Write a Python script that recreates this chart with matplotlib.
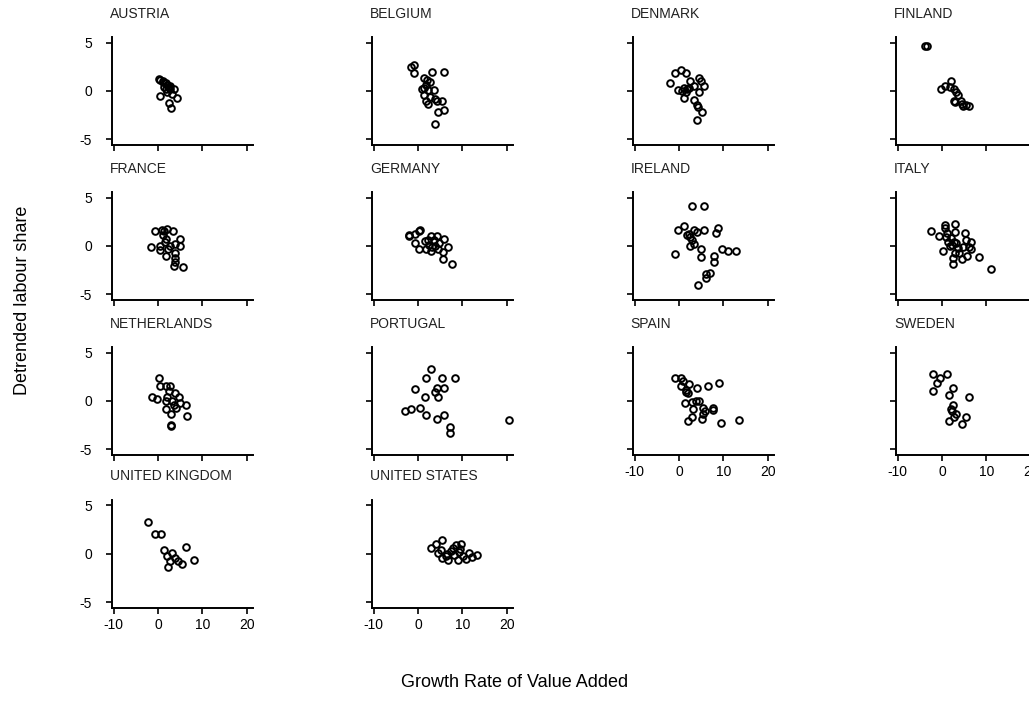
import matplotlib
matplotlib.use("Agg")
from matplotlib import pyplot as plt

plt.rcParams['font.family'] = ['Liberation Sans', 'DejaVu Sans']
plt.rcParams['axes.unicode_minus'] = False   # plain hyphen for negative ticks

# growth rate of value added (x) and detrended labour share (y), per country
austria_x = [0.2, 0.5, 1.1, 1.7, 2.0, 1.4, 2.4, 2.8, 3.5, 2.0, 3.2, 4.3, 0.5, 2.4, 3.0, 1.9, 1.2, 2.6]
austria_y = [1.2, 1.1, 0.9, 0.8, 0.6, 0.4, 0.35, 0.15, 0.15, -0.1, -0.3, -0.7, -0.55, -1.3, -1.8, 0.15, 1.0, 0.5]

belgium_x = [-1.0, -1.7, -1.0, 3.2, 5.8, 1.3, 2.0, 2.6, 1.8, 0.8, 1.3, 2.3, 3.5, 1.3, 2.6, 1.8, 3.9, 4.3, 5.4, 2.2, 5.8, 4.5, 3.9]
belgium_y = [2.65, 2.5, 1.8, 2.0, 2.0, 1.35, 1.1, 0.9, 0.6, 0.15, 0.25, 0.05, 0.05, -0.45, -0.6, -1.0, -0.8, -1.1, -1.1, -1.4, -2.0, -2.2, -3.45]

denmark_x = [0.5, -0.8, 1.7, -2.0, 2.6, 4.5, 4.9, 5.6, 3.4, 1.1, -0.2, 1.9, 4.5, 1.1, 3.4, 4.0, 4.4, 5.3, 4.0, 2.3, 0.7, 1.5]
denmark_y = [2.2, 1.8, 1.8, 0.8, 1.0, 1.35, 1.0, 0.5, 0.5, 0.25, 0.05, 0.15, -0.1, -0.7, -0.9, -1.5, -1.65, -2.2, -3.0, 0.25, 0.0, -0.1]

finland_x = [-3.5, -3.9, -0.3, 0.6, 2.0, 1.7, 2.7, 3.2, 3.5, 2.7, 3.0, 4.2, 4.7, 5.5, 6.1, 4.4]
finland_y = [4.65, 4.6, 0.15, 0.5, 1.0, 0.35, 0.15, -0.1, -0.4, -1.0, -1.15, -1.0, -1.6, -1.5, -1.6, -1.4]

france_x = [-0.8, 0.8, 2.0, 3.4, 1.1, 1.9, 5.0, 3.8, 5.0, 0.5, -1.7, 0.5, 2.3, 2.7, 1.9, 3.8, 3.8, 3.8, 3.6, 5.7, 1.5, 1.4]
france_y = [1.55, 1.65, 1.7, 1.55, 1.15, 0.7, 0.7, 0.2, 0.0, 0.0, -0.15, -0.4, -0.35, -0.05, -1.0, -0.75, -1.25, -1.7, -2.1, -2.2, 0.45, 1.5]

germany_x = [-2.0, -0.6, 0.5, 0.2, -0.6, 0.3, 1.5, 3.0, 4.3, 5.8, 4.7, 6.8, 5.6, 1.8, 3.2, 2.4, 3.9, 5.7, 7.7, 3.5, 2.3, 4.6, 2.8, -2.1]
germany_y = [1.15, 1.25, 1.65, 1.5, 0.25, -0.35, 0.5, 1.0, 1.05, 0.7, 0.25, -0.15, -0.6, -0.35, -0.15, 0.1, -0.05, -1.35, -1.85, 0.6, 0.6, -0.35, -0.5, 1.0]

ireland_x = [3.0, 5.6, -0.2, 1.1, 3.4, 5.6, 4.1, 8.9, 8.4, 1.9, 2.6, 3.0, 2.5, 3.5, 4.9, 9.8, 11.1, 12.9, -0.8, 4.9, 7.9, 7.9, 7.0, 6.2, 6.0, 4.4, 2.2]
ireland_y = [4.1, 4.1, 1.65, 2.1, 1.65, 1.65, 1.45, 1.9, 1.3, 1.15, 0.95, 0.6, 0.0, 0.2, -0.35, -0.35, -0.5, -0.5, -0.8, -1.2, -1.0, -1.7, -2.8, -2.9, -3.3, -4.05, 1.2]

italy_x = [-2.6, -0.8, 0.6, 0.6, 2.9, 1.2, 2.9, 5.1, 2.0, 2.7, 5.5, 6.5, 6.1, 4.7, 0.2, 2.9, 3.8, 5.7, 4.4, 2.5, 2.5, 8.3, 11.1, 1.7, 1.4, 2.2, 3.6, 6.5, 1.0, 3.2]
italy_y = [1.55, 1.0, 2.15, 1.8, 2.3, 1.35, 1.45, 1.3, 0.8, 0.45, 0.6, 0.45, -0.15, -0.15, -0.5, -0.75, -0.75, -1.1, -1.35, -1.25, -1.85, -1.15, -2.4, 0.0, 0.45, 0.1, -0.25, -0.35, 0.9, 0.3]

netherlands_x = [0.2, 0.5, 1.9, 2.6, -1.4, -0.2, 2.0, 3.9, 4.7, 1.9, 3.2, 5.0, 6.2, 1.7, 4.1, 2.9, 6.6, 2.9, 2.9, 2.4, 3.5]
netherlands_y = [2.4, 1.55, 1.55, 1.55, 0.35, 0.2, 0.35, 0.8, 0.35, 0.0, 0.0, -0.25, -0.45, -0.8, -0.75, -1.35, -1.6, -2.6, -2.45, 1.0, -0.4]

portugal_x = [3.0, 1.7, 5.3, 8.4, -0.6, 4.3, 5.8, 3.9, 1.5, 4.5, 0.4, -1.5, -2.9, 1.7, 4.3, 5.8, 7.2, 7.2, 20.4]
portugal_y = [3.3, 2.4, 2.4, 2.4, 1.2, 1.35, 1.35, 0.95, 0.35, 0.35, -0.7, -0.85, -1.0, -1.5, -1.9, -1.5, -2.7, -3.3, -2.0]

spain_x = [-0.9, 0.4, 1.0, 0.4, 2.3, 4.0, 6.6, 9.0, 1.7, 2.1, 1.3, 2.9, 3.8, 4.6, 3.2, 5.5, 5.9, 7.6, 7.6, 5.5, 2.9, 2.1, 5.3, 9.5, 13.5, 1.5]
spain_y = [2.4, 2.4, 2.1, 1.55, 1.7, 1.35, 1.55, 1.8, 0.95, 0.8, -0.25, -0.15, 0.0, 0.0, -0.85, -0.75, -1.1, -0.75, -0.9, -1.35, -1.7, -2.1, -1.9, -2.3, -2.0, 1.1]

sweden_x = [-2.0, 1.1, -0.5, -1.1, -2.0, 2.5, 1.5, 6.1, 2.5, 2.0, 2.3, 3.2, 2.7, 1.5, 5.5, 4.4]
sweden_y = [2.8, 2.8, 2.4, 1.8, 1.0, 1.35, 0.6, 0.35, -0.4, -0.8, -1.0, -1.35, -1.7, -2.1, -1.7, -2.4]

uk_x = [-2.3, -0.7, 0.7, 1.4, 2.1, 2.8, 2.3, 3.9, 4.6, 5.5, 6.2, 8.0, 3.2]
uk_y = [3.3, 2.0, 2.0, 0.4, -0.2, -0.8, -1.4, -0.4, -0.8, -1.1, 0.7, -0.6, 0.1]

us_x = [2.8, 4.1, 5.3, 4.6, 6.2, 7.4, 8.5, 9.2, 10.1, 11.5, 13.3, 9.0, 6.7, 5.5, 7.8, 9.7, 10.8, 12.2, 5.1, 6.5, 8.0, 9.5]
us_y = [0.6, 1.0, 1.4, 0.1, -0.2, 0.3, 0.9, 0.2, -0.2, 0.1, -0.1, -0.6, -0.6, -0.4, 0.6, 1.0, -0.5, -0.3, 0.4, 0.0, -0.1, 0.5]

countries = ["AUSTRIA", "BELGIUM", "DENMARK", "FINLAND", "FRANCE", "GERMANY", "IRELAND", "ITALY",
             "NETHERLANDS", "PORTUGAL", "SPAIN", "SWEDEN", "UNITED KINGDOM", "UNITED STATES"]
xs = [austria_x, belgium_x, denmark_x, finland_x, france_x, germany_x, ireland_x, italy_x,
      netherlands_x, portugal_x, spain_x, sweden_x, uk_x, us_x]
ys = [austria_y, belgium_y, denmark_y, finland_y, france_y, germany_y, ireland_y, italy_y,
      netherlands_y, portugal_y, spain_y, sweden_y, uk_y, us_y]

x_ticks = [-10, 0, 10, 20]
y_ticks = [-5, 0, 5]

fig = plt.figure(figsize=(10.29, 7.21), dpi=100)

lefts = [0.1088, 0.3615, 0.615, 0.8707]   # column positions
bottoms = [0.799, 0.584, 0.369, 0.157]    # row positions
w, h = 0.137, 0.150

for i, name in enumerate(countries):
    row, col = divmod(i, 4)
    ax = fig.add_axes([lefts[col], bottoms[row], w, h])
    ax.plot(xs[i], ys[i], linestyle='none', marker='o', ms=4.8, mew=1.4,
            mfc='none', mec='black')
    ax.set_xlim(-10.4, 21.4)
    ax.set_ylim(-5.6, 5.6)
    for s in ['top', 'right']:
        ax.spines[s].set_visible(False)
    for s in ['left', 'bottom']:
        ax.spines[s].set_linewidth(1.4)
    ax.set_xticks(x_ticks)
    ax.set_yticks(y_ticks)
    ax.tick_params(direction='out', length=4.5, width=1.2, labelsize=10)
    ax.tick_params(axis='y', pad=10)
    ax.tick_params(axis='x', pad=3)
    # x labels only on the bottom panel of each column, y labels on the first column
    last_in_col = (row == 3) or (row == 2 and col >= 2)
    if not last_in_col:
        ax.set_xticklabels([])
    if col != 0:
        ax.set_yticklabels([])
    ax.text(-0.015, 1.15, name, transform=ax.transAxes, ha='left', va='bottom',
            fontsize=10, color='#222222')

fig.text(0.5, 0.054, "Growth Rate of Value Added", ha='center', va='center', fontsize=13)
fig.text(0.022, 0.584, "Detrended labour share", ha='center', va='center',
         rotation=90, fontsize=13)

plt.savefig("out.png", dpi=100)
